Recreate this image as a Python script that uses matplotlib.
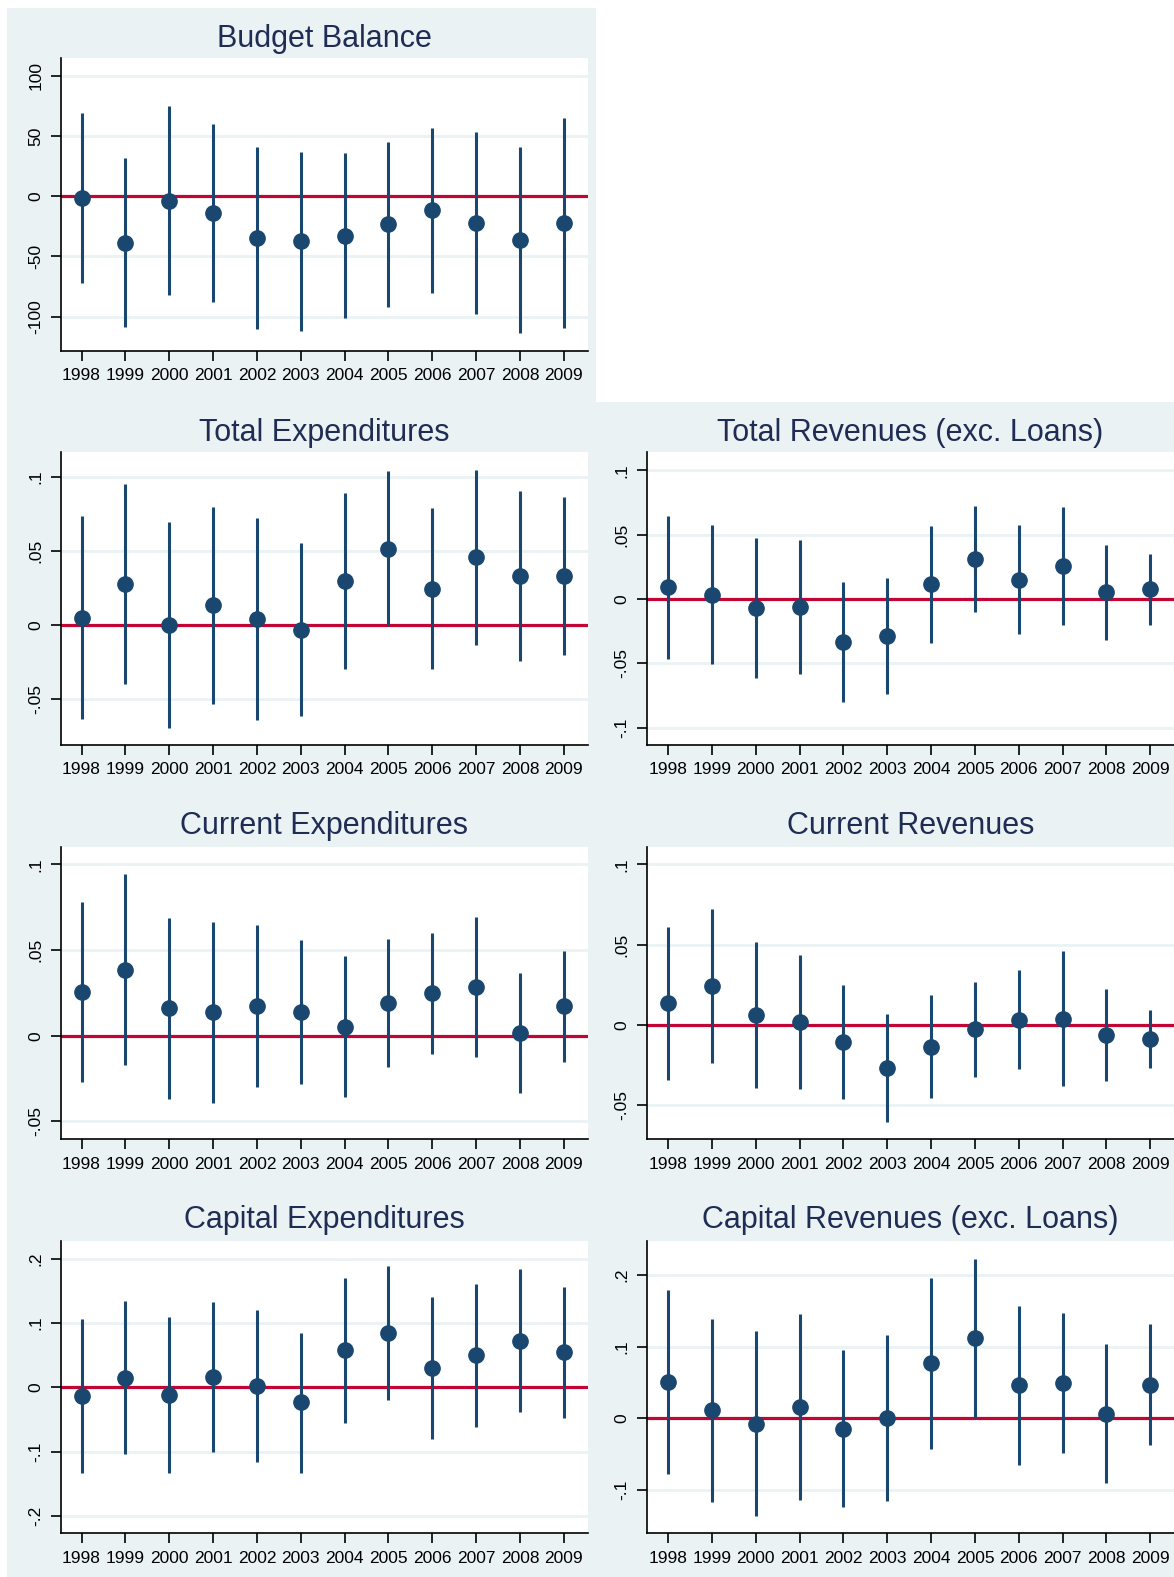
import matplotlib
matplotlib.use("Agg")
import matplotlib.pyplot as plt
from matplotlib.patches import Rectangle

plt.rcParams['font.family'] = ['Liberation Sans', 'DejaVu Sans']

years = [1998, 1999, 2000, 2001, 2002, 2003, 2004, 2005, 2006, 2007, 2008, 2009]

# point estimates and confidence bounds, one set per panel
budget_est = [-1.0, -38.5, -3.9, -13.6, -34.6, -37.1, -33.0, -23.3, -11.4, -21.9, -36.3, -21.9]
budget_lo = [-72.3, -108.9, -82.0, -88.0, -110.5, -111.6, -101.4, -91.7, -80.6, -97.8, -113.9, -109.7]
budget_hi = [69.5, 31.6, 75.0, 60.0, 41.3, 36.8, 35.7, 45.4, 57.0, 53.5, 41.3, 64.8]

totexp_est = [0.0047, 0.0277, 0.0, 0.0133, 0.0041, -0.0034, 0.0297, 0.0514, 0.0245, 0.0457, 0.0333, 0.0329]
totexp_lo = [-0.0637, -0.0399, -0.0694, -0.0536, -0.0642, -0.0617, -0.0295, -0.0009, -0.0300, -0.0133, -0.0243, -0.0205]
totexp_hi = [0.0736, 0.0950, 0.0698, 0.0800, 0.0723, 0.0552, 0.0894, 0.1040, 0.0791, 0.1045, 0.0908, 0.0863]

totrev_est = [0.0091, 0.0034, -0.0067, -0.0065, -0.0337, -0.0285, 0.0114, 0.0311, 0.0148, 0.0259, 0.0052, 0.0078]
totrev_lo = [-0.0466, -0.0508, -0.0614, -0.0585, -0.0803, -0.0736, -0.0339, -0.0104, -0.0275, -0.0199, -0.0319, -0.0202]
totrev_hi = [0.0645, 0.0578, 0.0474, 0.0456, 0.0132, 0.0166, 0.0567, 0.0723, 0.0573, 0.0715, 0.0417, 0.0352]

curexp_est = [0.0255, 0.0385, 0.0161, 0.0136, 0.0175, 0.0136, 0.0054, 0.0191, 0.0249, 0.0284, 0.0018, 0.0171]
curexp_lo = [-0.0268, -0.0171, -0.0368, -0.0391, -0.0298, -0.0284, -0.0356, -0.0183, -0.0105, -0.0125, -0.0331, -0.0154]
curexp_hi = [0.0778, 0.0942, 0.0689, 0.0665, 0.0646, 0.0560, 0.0465, 0.0562, 0.0601, 0.0691, 0.0364, 0.0494]

currev_est = [0.0135, 0.0242, 0.0064, 0.0017, -0.0106, -0.0265, -0.0137, -0.0027, 0.0033, 0.0037, -0.0064, -0.0087]
currev_lo = [-0.0340, -0.0234, -0.0392, -0.0396, -0.0458, -0.0601, -0.0456, -0.0325, -0.0276, -0.0381, -0.0350, -0.0265]
currev_hi = [0.0609, 0.0721, 0.0518, 0.0433, 0.0247, 0.0068, 0.0184, 0.0271, 0.0344, 0.0458, 0.0222, 0.0091]

capexp_est = [-0.0130, 0.0150, -0.0124, 0.0160, 0.0026, -0.0233, 0.0575, 0.0850, 0.0295, 0.0500, 0.0725, 0.0550]
capexp_lo = [-0.1326, -0.1040, -0.1340, -0.1010, -0.1155, -0.1326, -0.0550, -0.0190, -0.0810, -0.0617, -0.0383, -0.0470]
capexp_hi = [0.1070, 0.1340, 0.1090, 0.1320, 0.1200, 0.0850, 0.1700, 0.1886, 0.1400, 0.1610, 0.1834, 0.1565]

caprev_est = [0.0510, 0.0116, -0.0074, 0.0158, -0.0148, 0.0, 0.0770, 0.1114, 0.0460, 0.0490, 0.0060, 0.0469]
caprev_lo = [-0.0770, -0.1160, -0.1355, -0.1137, -0.1240, -0.1146, -0.0420, 0.0, -0.0650, -0.0487, -0.0905, -0.0370]
caprev_hi = [0.1787, 0.1390, 0.1210, 0.1448, 0.0947, 0.1155, 0.1960, 0.2220, 0.1570, 0.1466, 0.1030, 0.1310]

titles = ["Budget Balance", "Total Expenditures", "Total Revenues (exc. Loans)",
          "Current Expenditures", "Current Revenues",
          "Capital Expenditures", "Capital Revenues (exc. Loans)"]

W, H = 1174, 1577
BG = '#eaf2f3'
NAVY = '#1a476f'
RED = '#c10534'
TITLE_C = '#1f2d55'

fig = plt.figure(figsize=(W / 100, H / 100), dpi=100)
fig.patch.set_facecolor('white')

# (row, col, est, lo, hi, ylim, ticks, ticklabels)
panels = [
    (0, 0, budget_est, budget_lo, budget_hi, (-128.3, 114.7),
     [-100, -50, 0, 50, 100], ["-100", "-50", "0", "50", "100"]),
    (1, 0, totexp_est, totexp_lo, totexp_hi, (-0.0811, 0.1167),
     [-0.05, 0, 0.05, 0.1], ["-.05", "0", ".05", ".1"]),
    (1, 1, totrev_est, totrev_lo, totrev_hi, (-0.1134, 0.114),
     [-0.1, -0.05, 0, 0.05, 0.1], ["-.1", "-.05", "0", ".05", ".1"]),
    (2, 0, curexp_est, curexp_lo, curexp_hi, (-0.0604, 0.1103),
     [-0.05, 0, 0.05, 0.1], ["-.05", "0", ".05", ".1"]),
    (2, 1, currev_est, currev_lo, currev_hi, (-0.0711, 0.111),
     [-0.05, 0, 0.05, 0.1], ["-.05", "0", ".05", ".1"]),
    (3, 0, capexp_est, capexp_lo, capexp_hi, (-0.227, 0.228),
     [-0.2, -0.1, 0, 0.1, 0.2], ["-.2", "-.1", "0", ".1", ".2"]),
    (3, 1, caprev_est, caprev_lo, caprev_hi, (-0.160, 0.2473),
     [-0.1, 0, 0.1, 0.2], ["-.1", "0", ".1", ".2"]),
]

row_top = [8, 402, 795, 1187]
row_bot = [402, 795, 1187, 1577]
col_left = [7, 596]
col_right = [596, 1174]
plot_top = [58.3, 452.3, 846.7, 1240.7]
plot_bot = [350.7, 745.0, 1139.3, 1533.3]
plot_left = [60.5, 647.0]
plot_w = 527.0
title_y = [38.5, 432.5, 826.0, 1220.0]

for (row, col, est, lo, hi, ylim, ticks, tlabels), title in zip(panels, titles):
    # panel background
    x0, x1 = col_left[col], col_right[col]
    y0, y1 = row_top[row], row_bot[row]
    fig.add_artist(Rectangle((x0 / W, 1 - y1 / H), (x1 - x0) / W, (y1 - y0) / H,
                             transform=fig.transFigure, facecolor=BG,
                             edgecolor='none', zorder=0))

    pt, pb = plot_top[row], plot_bot[row]
    ax = fig.add_axes([plot_left[col] / W, 1 - pb / H, plot_w / W, (pb - pt) / H])
    ax.set_facecolor('white')
    ax.set_zorder(1)

    ax.axhline(0, color=RED, lw=2.3, zorder=1.5)
    ax.vlines(years, lo, hi, color=NAVY, lw=2.2, zorder=2)
    ax.plot(years, est, 'o', ms=11, color=NAVY, mec=NAVY, zorder=3)

    ax.set_xlim(1997.52, 2009.54)
    ax.set_ylim(*ylim)
    ax.set_xticks(years)
    ax.set_xticklabels([str(y) for y in years])
    ax.set_yticks(ticks)
    ax.set_yticklabels(tlabels, rotation=90, va='center')

    ax.yaxis.grid(True, color=BG, lw=2.0)
    ax.set_axisbelow(True)
    for s in ['top', 'right']:
        ax.spines[s].set_visible(False)
    for s in ['left', 'bottom']:
        ax.spines[s].set_linewidth(1.2)
        ax.spines[s].set_color('black')
    ax.tick_params(axis='both', length=7, width=1.2, color='black',
                   labelsize=12.5, pad=5.5)

    cx = (plot_left[col] + plot_w / 2) / W
    fig.text(cx, 1 - title_y[row] / H, title, ha='center', va='center',
             fontsize=22, color=TITLE_C)

fig.savefig('out.png', dpi=100, facecolor='white')
